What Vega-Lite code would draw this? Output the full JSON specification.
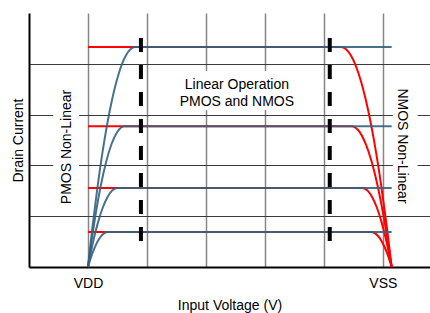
{
  "$schema": "https://vega.github.io/schema/vega-lite/v6.json",
  "width": 401,
  "height": 254,
  "autosize": {"type": "none"},
  "padding": {"left": 29, "top": 13, "right": 0, "bottom": 46},
  "background": "white",
  "config": {
    "view": {"stroke": null},
    "font": "Liberation Sans",
    "axis": {"labelFont": "Liberation Sans", "titleFont": "Liberation Sans", "titleFontWeight": "normal", "labelColor": "#000", "titleColor": "#000"}
  },
  "datasets": {
    "blue": [
      {"c": "b1", "x": 1, "y": 0}, {"c": "b1", "x": 1.08, "y": 0.823}, {"c": "b1", "x": 1.16, "y": 1.559}, {"c": "b1", "x": 1.28, "y": 2.501}, {"c": "b1", "x": 1.40, "y": 3.248}, {"c": "b1", "x": 1.52, "y": 3.800}, {"c": "b1", "x": 1.64, "y": 4.157}, {"c": "b1", "x": 1.72, "y": 4.287}, {"c": "b1", "x": 1.80, "y": 4.33}, {"c": "b1", "x": 6.15, "y": 4.33},
      {"c": "b2", "x": 1, "y": 0}, {"c": "b2", "x": 1.062, "y": 0.526}, {"c": "b2", "x": 1.124, "y": 0.997}, {"c": "b2", "x": 1.217, "y": 1.600}, {"c": "b2", "x": 1.31, "y": 2.078}, {"c": "b2", "x": 1.403, "y": 2.431}, {"c": "b2", "x": 1.496, "y": 2.659}, {"c": "b2", "x": 1.558, "y": 2.742}, {"c": "b2", "x": 1.62, "y": 2.77}, {"c": "b2", "x": 6.15, "y": 2.77},
      {"c": "b3", "x": 1, "y": 0}, {"c": "b3", "x": 1.05, "y": 0.295}, {"c": "b3", "x": 1.10, "y": 0.560}, {"c": "b3", "x": 1.175, "y": 0.898}, {"c": "b3", "x": 1.25, "y": 1.166}, {"c": "b3", "x": 1.325, "y": 1.365}, {"c": "b3", "x": 1.40, "y": 1.493}, {"c": "b3", "x": 1.45, "y": 1.539}, {"c": "b3", "x": 1.50, "y": 1.555}, {"c": "b3", "x": 6.15, "y": 1.555},
      {"c": "b4", "x": 1, "y": 0}, {"c": "b4", "x": 1.034, "y": 0.131}, {"c": "b4", "x": 1.068, "y": 0.248}, {"c": "b4", "x": 1.119, "y": 0.398}, {"c": "b4", "x": 1.17, "y": 0.518}, {"c": "b4", "x": 1.221, "y": 0.605}, {"c": "b4", "x": 1.272, "y": 0.662}, {"c": "b4", "x": 1.306, "y": 0.683}, {"c": "b4", "x": 1.34, "y": 0.69}, {"c": "b4", "x": 6.15, "y": 0.69}
    ],
    "red": [
      {"c": "r1", "x": 1, "y": 4.33}, {"c": "r1", "x": 5.29, "y": 4.33}, {"c": "r1", "x": 5.376, "y": 4.287}, {"c": "r1", "x": 5.462, "y": 4.157}, {"c": "r1", "x": 5.591, "y": 3.800}, {"c": "r1", "x": 5.72, "y": 3.248}, {"c": "r1", "x": 5.849, "y": 2.501}, {"c": "r1", "x": 5.978, "y": 1.559}, {"c": "r1", "x": 6.064, "y": 0.823}, {"c": "r1", "x": 6.15, "y": 0},
      {"c": "r2", "x": 1, "y": 2.77}, {"c": "r2", "x": 5.47, "y": 2.77}, {"c": "r2", "x": 5.538, "y": 2.742}, {"c": "r2", "x": 5.606, "y": 2.659}, {"c": "r2", "x": 5.708, "y": 2.431}, {"c": "r2", "x": 5.81, "y": 2.078}, {"c": "r2", "x": 5.912, "y": 1.600}, {"c": "r2", "x": 6.014, "y": 0.997}, {"c": "r2", "x": 6.082, "y": 0.526}, {"c": "r2", "x": 6.15, "y": 0},
      {"c": "r3", "x": 1, "y": 1.555}, {"c": "r3", "x": 5.65, "y": 1.555}, {"c": "r3", "x": 5.70, "y": 1.539}, {"c": "r3", "x": 5.75, "y": 1.493}, {"c": "r3", "x": 5.825, "y": 1.365}, {"c": "r3", "x": 5.90, "y": 1.166}, {"c": "r3", "x": 5.975, "y": 0.898}, {"c": "r3", "x": 6.05, "y": 0.560}, {"c": "r3", "x": 6.10, "y": 0.295}, {"c": "r3", "x": 6.15, "y": 0},
      {"c": "r4", "x": 1, "y": 0.69}, {"c": "r4", "x": 5.80, "y": 0.69}, {"c": "r4", "x": 5.835, "y": 0.683}, {"c": "r4", "x": 5.87, "y": 0.662}, {"c": "r4", "x": 5.9225, "y": 0.605}, {"c": "r4", "x": 5.975, "y": 0.518}, {"c": "r4", "x": 6.0275, "y": 0.398}, {"c": "r4", "x": 6.08, "y": 0.248}, {"c": "r4", "x": 6.115, "y": 0.131}, {"c": "r4", "x": 6.15, "y": 0}
    ],
    "boxes": [
      {"x": 2.45, "x2": 4.58, "y": 3.86, "y2": 3.09},
      {"x": 0.41, "x2": 0.85, "y": 3.6, "y2": 1.12},
      {"x": 6.17, "x2": 6.59, "y": 3.6, "y2": 1.12}
    ],
    "dashes": [
      {"x": 1.898, "y": 4.51, "y2": 0.51},
      {"x": 5.10, "y": 4.51, "y2": 0.51}
    ],
    "center": [
      {"t": "Linear Operation", "x": 3.525, "y": 3.583},
      {"t": "PMOS and NMOS", "x": 3.525, "y": 3.248}
    ],
    "left": [{"t": "PMOS Non-Linear", "x": 0.644, "y": 2.362}],
    "right": [{"t": "NMOS Non-Linear", "x": 6.32, "y": 2.382}]
  },
  "layer": [
    {
      "data": {"name": "boxes"},
      "mark": {"type": "rect", "fill": "white", "stroke": null},
      "encoding": {
        "x": {"field": "x", "type": "quantitative", "scale": {"domain": [0, 6.8], "nice": false, "zero": false},
          "axis": {"values": [1, 2, 3, 4, 5, 6], "grid": true, "gridColor": "#858585", "gridWidth": 1.5, "ticks": false,
            "labelExpr": "datum.value == 1 ? 'VDD' : (datum.value == 6 ? 'VSS' : '')", "labelOverlap": false,
            "labelFontSize": 14, "labelPadding": 9, "domainColor": "#000", "domainWidth": 2,
            "title": "Input Voltage (V)", "titleFontSize": 14, "titlePadding": 8}},
        "x2": {"field": "x2"},
        "y": {"field": "y", "type": "quantitative", "scale": {"domain": [0, 5], "nice": false, "zero": false},
          "axis": {"values": [1, 2, 3, 4], "grid": true, "gridColor": "#3a3a3a", "gridWidth": 1, "ticks": false, "labels": false,
            "domainColor": "#000", "domainWidth": 2, "title": "Drain Current", "titleFontSize": 14, "titlePadding": 4}},
        "y2": {"field": "y2"}
      }
    },
    {
      "mark": {"type": "rule", "color": "#000", "strokeWidth": 2},
      "encoding": {"y": {"datum": 5, "type": "quantitative"}}
    },
    {
      "data": {"name": "red"},
      "mark": {"type": "line", "color": "#ff0000", "strokeWidth": 2, "interpolate": "monotone"},
      "encoding": {
        "x": {"field": "x", "type": "quantitative"},
        "y": {"field": "y", "type": "quantitative"},
        "detail": {"field": "c"}
      }
    },
    {
      "data": {"name": "blue"},
      "mark": {"type": "line", "color": "#33627f", "strokeWidth": 2, "opacity": 0.9, "interpolate": "monotone"},
      "encoding": {
        "x": {"field": "x", "type": "quantitative"},
        "y": {"field": "y", "type": "quantitative"},
        "detail": {"field": "c"}
      }
    },
    {
      "data": {"name": "dashes"},
      "mark": {"type": "rule", "color": "#000", "strokeWidth": 4, "strokeDash": [14, 13]},
      "encoding": {
        "x": {"field": "x", "type": "quantitative"},
        "y": {"field": "y", "type": "quantitative"},
        "y2": {"field": "y2"}
      }
    },
    {
      "data": {"name": "center"},
      "mark": {"type": "text", "fontSize": 14, "font": "Liberation Sans", "color": "#000", "align": "center", "baseline": "middle"},
      "encoding": {
        "x": {"field": "x", "type": "quantitative"},
        "y": {"field": "y", "type": "quantitative"},
        "text": {"field": "t"}
      }
    },
    {
      "data": {"name": "left"},
      "mark": {"type": "text", "fontSize": 14, "font": "Liberation Sans", "color": "#000", "align": "center", "baseline": "middle", "angle": 270},
      "encoding": {
        "x": {"field": "x", "type": "quantitative"},
        "y": {"field": "y", "type": "quantitative"},
        "text": {"field": "t"}
      }
    },
    {
      "data": {"name": "right"},
      "mark": {"type": "text", "fontSize": 14, "font": "Liberation Sans", "color": "#000", "align": "center", "baseline": "middle", "angle": 90},
      "encoding": {
        "x": {"field": "x", "type": "quantitative"},
        "y": {"field": "y", "type": "quantitative"},
        "text": {"field": "t"}
      }
    }
  ]
}
